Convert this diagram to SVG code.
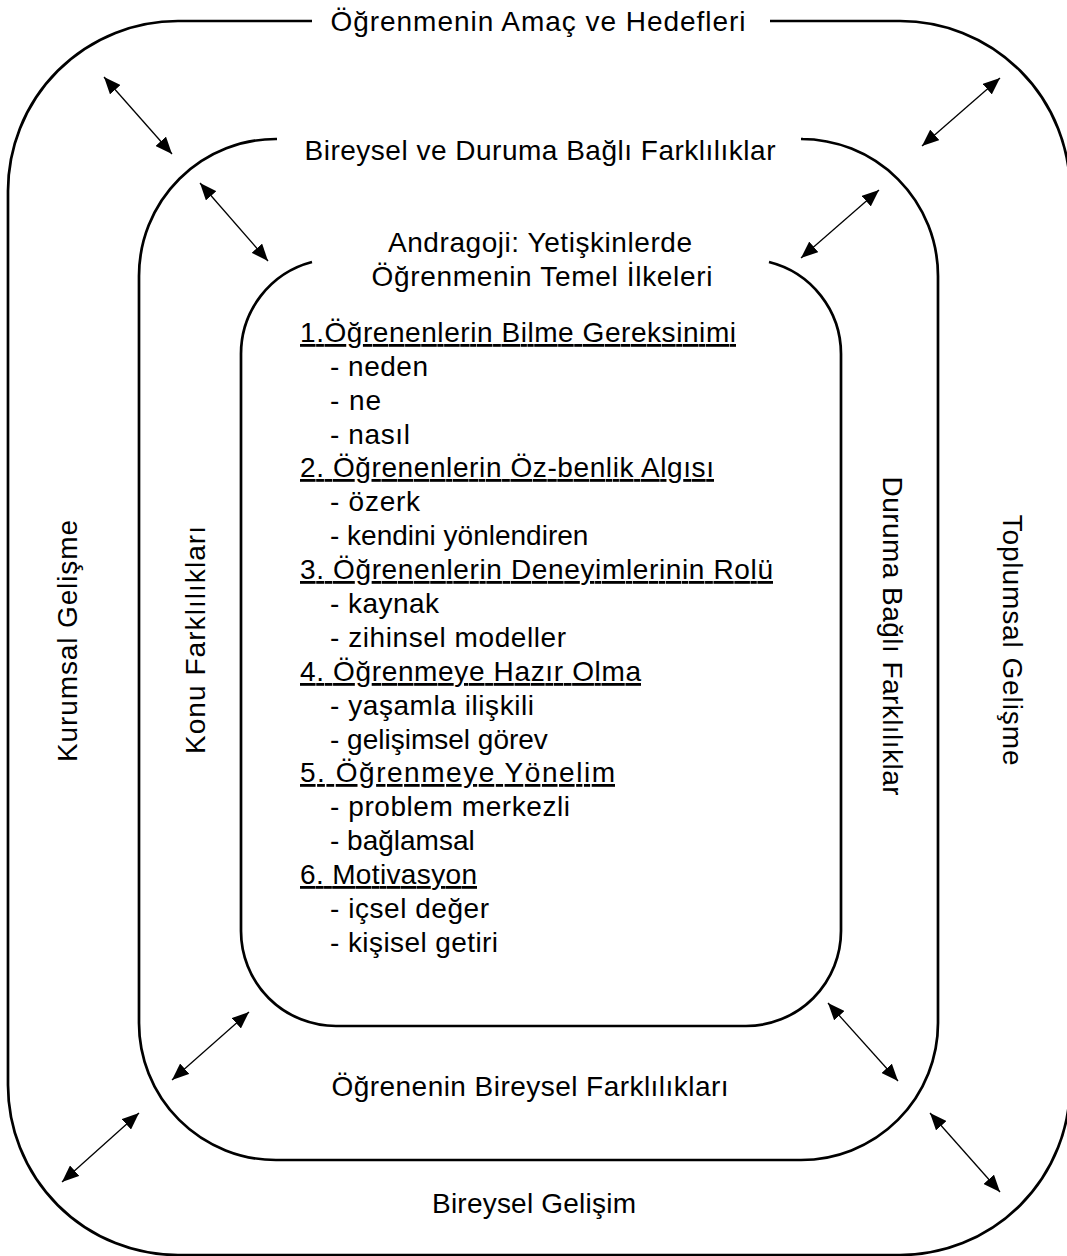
<svg xmlns="http://www.w3.org/2000/svg" width="1067" height="1256" viewBox="0 0 1067 1256">
<style>
text{font-family:"Liberation Sans",Arial,sans-serif;font-size:28px;fill:#000}
.mid{text-anchor:middle}
.u{text-decoration:underline}
.frame{fill:none;stroke:#000;stroke-width:2.7}
.arr{stroke:#000;stroke-width:1.3;fill:none;marker-start:url(#ah);marker-end:url(#ah)}
</style>
<defs>
<marker id="ah" markerUnits="userSpaceOnUse" markerWidth="18" markerHeight="14" refX="17" refY="7" orient="auto-start-reverse">
<path d="M0,0 L17,7 L0,14 z" fill="#000"/>
</marker>
</defs>
<rect width="1067" height="1256" fill="#fff"/>

<g id="outer">
<path class="frame" d="M312,21 L178,21 A170,170 0 0 0 8,191 L8,1085 A170,170 0 0 0 178,1255 L900,1255 A170,170 0 0 0 1070,1085 L1070,191 A170,170 0 0 0 900,21 L770,21"/>
<text class="mid" x="538" y="31" textLength="415" lengthAdjust="spacing">Öğrenmenin Amaç ve Hedefleri</text>
<text class="mid" x="534" y="1213" textLength="204" lengthAdjust="spacing">Bireysel Gelişim</text>
<text class="mid" transform="translate(77,641) rotate(-90)" textLength="242" lengthAdjust="spacing">Kurumsal Gelişme</text>
<text class="mid" transform="translate(1003,640) rotate(90)" textLength="251" lengthAdjust="spacing">Toplumsal Gelişme</text>
</g>

<g id="middle">
<path class="frame" d="M277,139 A137,137 0 0 0 139,276 L139,1023 A137,137 0 0 0 276,1160 L801,1160 A137,137 0 0 0 938,1023 L938,276 A137,137 0 0 0 801,139 L803,139"/>
<text class="mid" x="540" y="160" textLength="471" lengthAdjust="spacing">Bireysel ve Duruma Bağlı Farklılıklar</text>
<text class="mid" x="530" y="1096" textLength="397" lengthAdjust="spacing">Öğrenenin Bireysel Farklılıkları</text>
<text class="mid" transform="translate(205,640) rotate(-90)" textLength="228" lengthAdjust="spacing">Konu Farklılıkları</text>
<text class="mid" transform="translate(883,636) rotate(90)" textLength="319" lengthAdjust="spacing">Duruma Bağlı Farklılıklar</text>
</g>

<g id="inner">
<path class="frame" d="M312,262 A95,95 0 0 0 241,354 L241,931 A95,95 0 0 0 336,1026 L746,1026 A95,95 0 0 0 841,931 L841,354 A95,95 0 0 0 769,262"/>
<text class="mid" x="540" y="252" textLength="304" lengthAdjust="spacing">Andragoji: Yetişkinlerde</text>
<text class="mid" x="542" y="286" textLength="341" lengthAdjust="spacing">Öğrenmenin Temel İlkeleri</text>
<text class="u" x="300" y="342" textLength="436" lengthAdjust="spacing">1.Öğrenenlerin Bilme Gereksinimi</text>
<text x="330" y="376" textLength="98" lengthAdjust="spacing">- neden</text>
<text x="330" y="410" textLength="51" lengthAdjust="spacing">- ne</text>
<text x="330" y="444" textLength="80" lengthAdjust="spacing">- nasıl</text>
<text class="u" x="300" y="477" textLength="414" lengthAdjust="spacing">2. Öğrenenlerin Öz-benlik Algısı</text>
<text x="330" y="511" textLength="90" lengthAdjust="spacing">- özerk</text>
<text x="330" y="545">- kendini yönlendiren</text>
<text class="u" x="300" y="579" textLength="473" lengthAdjust="spacing">3. Öğrenenlerin Deneyimlerinin Rolü</text>
<text x="330" y="613" textLength="109" lengthAdjust="spacing">- kaynak</text>
<text x="330" y="647" textLength="236" lengthAdjust="spacing">- zihinsel modeller</text>
<text class="u" x="300" y="681" textLength="341" lengthAdjust="spacing">4. Öğrenmeye Hazır Olma</text>
<text x="330" y="715" textLength="204" lengthAdjust="spacing">- yaşamla ilişkili</text>
<text x="330" y="749">- gelişimsel görev</text>
<text class="u" x="300" y="782" textLength="315" lengthAdjust="spacing">5. Öğrenmeye Yönelim</text>
<text x="330" y="816" textLength="240" lengthAdjust="spacing">- problem merkezli</text>
<text x="330" y="850">- bağlamsal</text>
<text class="u" x="300" y="884" textLength="177" lengthAdjust="spacing">6. Motivasyon</text>
<text x="330" y="918" textLength="159" lengthAdjust="spacing">- içsel değer</text>
<text x="330" y="952" textLength="168" lengthAdjust="spacing">- kişisel getiri</text>
</g>

<g id="connectors">
<line class="arr" x1="104" y1="77" x2="172" y2="154"/>
<line class="arr" x1="200" y1="183" x2="268" y2="261"/>
<line class="arr" x1="1000" y1="78" x2="922" y2="146"/>
<line class="arr" x1="879" y1="190" x2="801" y2="258"/>
<line class="arr" x1="249" y1="1012" x2="172" y2="1080"/>
<line class="arr" x1="139" y1="1113" x2="62" y2="1182"/>
<line class="arr" x1="828" y1="1003" x2="898" y2="1081"/>
<line class="arr" x1="930" y1="1113" x2="1000" y2="1192"/>
</g>
</svg>
